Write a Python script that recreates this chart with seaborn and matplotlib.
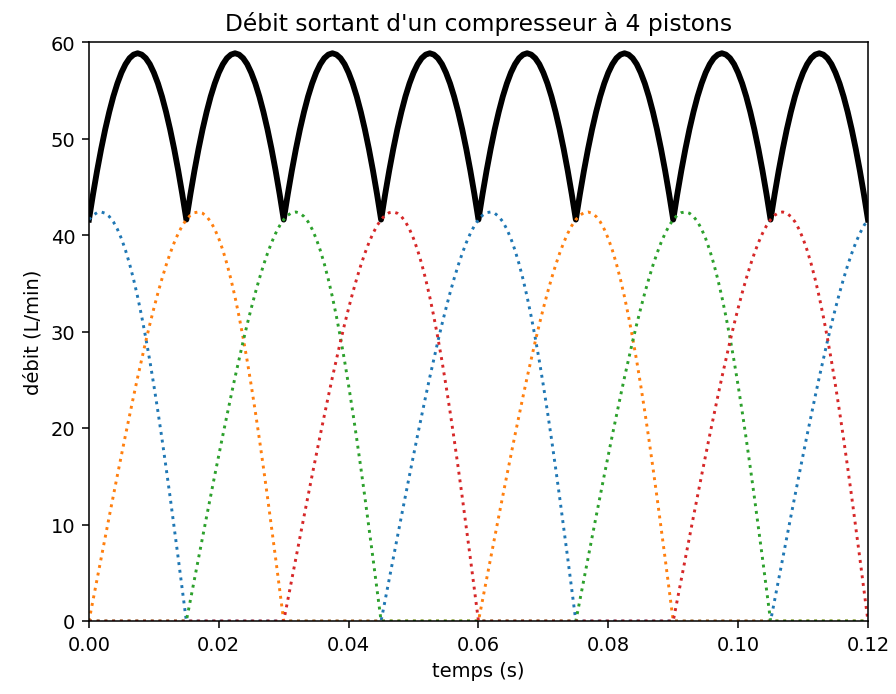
import numpy as np
import pandas as pd
import seaborn as sns
import matplotlib.pyplot as plt

# One piston stroke (L/min), read every 0.000625 s over a 0.03 s stroke
profile = [0.0, 2.18, 4.35, 6.52, 8.69, 10.84, 12.98, 15.10, 17.20, 19.27,
           21.31, 23.30, 25.26, 27.15, 28.99, 30.75, 32.42, 34.01, 35.49,
           36.86, 38.10, 39.21, 40.17, 40.97, 41.60, 42.05, 42.32, 42.39,
           42.26, 41.92, 41.38, 40.61, 39.63, 38.43, 37.02, 35.40, 33.58,
           31.55, 29.34, 26.96, 24.40, 21.70, 18.86, 15.90, 12.85, 9.71,
           6.51, 3.26, 0.0]
step = 0.000625
t_end = 0.12

# Start time of each stroke, per piston
starts_p1 = [-0.015, 0.045, 0.105]
starts_p2 = [0.0, 0.06]
starts_p3 = [0.015, 0.075]
starts_p4 = [0.03, 0.09]
piston_names = ['piston 1', 'piston 2', 'piston 3', 'piston 4']

xticks = [0.0, 0.02, 0.04, 0.06, 0.08, 0.10, 0.12]
yticks = [0, 10, 20, 30, 40, 50, 60]

n = int(round(t_end / step)) + 1
t = np.arange(n) * step


def piston(starts):
    y = np.zeros(n)
    for s in starts:
        i0 = int(round(s / step))
        for k, v in enumerate(profile):
            if 0 <= i0 + k < n:
                y[i0 + k] = v
    return y


series = [piston(s) for s in [starts_p1, starts_p2, starts_p3, starts_p4]]
df = pd.concat([pd.DataFrame({'temps': t, 'debit': y, 'piston': name})
                for name, y in zip(piston_names, series)], ignore_index=True)
total = pd.DataFrame({'temps': t, 'debit': np.sum(series, axis=0)})

fig = plt.figure(figsize=(6.4, 4.964), dpi=140)
ax = fig.add_axes([0.0993, 0.105, 0.8694, 0.8331])

sns.lineplot(data=total, x='temps', y='debit', color='black', linewidth=3,
             solid_joinstyle='round', ax=ax)
sns.lineplot(data=df, x='temps', y='debit', hue='piston', palette='tab10',
             linestyle=':', linewidth=1.5, legend=False, ax=ax)

ax.set_xlim(0, t_end)
ax.set_ylim(0, 60)
ax.set_xticks(xticks)
ax.set_yticks(yticks)
ax.set_xlabel('temps (s)')
ax.set_ylabel('débit (L/min)')
ax.set_title("Débit sortant d'un compresseur à 4 pistons")

fig.savefig('out.png', dpi=140)
